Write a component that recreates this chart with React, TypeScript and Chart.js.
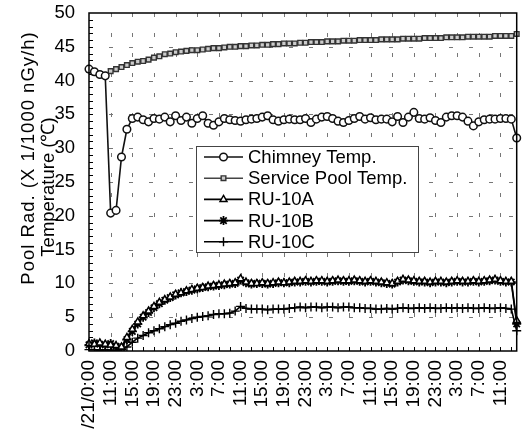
import React, { useEffect, useRef } from 'react';
import { Chart, registerables } from 'chart.js';
import { drawPoint } from 'chart.js/helpers';

Chart.register(...registerables);

const FONT = '"Liberation Sans", Arial, sans-serif';
const FONT_SIZE = 18.5;
const X_FONT_SIZE = 19;

const tickLabels = [
  '/21/0:00', '11:00', '15:00', '19:00', '23:00', '3:00', '7:00', '11:00', '15:00', '19:00',
  '23:00', '3:00', '7:00', '11:00', '15:00', '19:00', '23:00', '3:00', '7:00', '11:00',
];
const pointsPerLabel = 4;

const yTitleLine1 = 'Pool Rad. (X 1/1000 nGy/h)';
const yTitleLine2 = 'Temperature (\u2103)';

const seriesNames = ['Chimney Temp.', 'Service Pool Temp.', 'RU-10A', 'RU-10B', 'RU-10C'];

const chimneyTemp = [
  41.7, 41.3, 40.9, 40.7, 20.4, 20.8, 28.7, 32.8, 34.4, 34.6,
  34.2, 33.9, 34.4, 34.3, 34.6, 33.9, 34.8, 34.1, 34.6, 33.7,
  34.4, 34.8, 33.7, 33.4, 33.9, 34.4, 34.2, 34.1, 34.0, 34.2,
  34.3, 34.4, 34.6, 34.8, 34.2, 34.0, 34.2, 34.3, 34.2, 34.2,
  34.4, 33.8, 34.3, 34.6, 34.7, 34.4, 34.0, 33.8, 34.1, 34.4,
  34.7, 34.3, 34.5, 34.2, 34.3, 34.3, 33.9, 34.7, 33.8, 34.6,
  35.3, 34.4, 34.3, 34.5, 34.1, 33.8, 34.6, 34.8, 34.8, 34.6,
  34.0, 33.3, 33.9, 34.2, 34.3, 34.3, 34.4, 34.4, 34.3, 31.5,
];

const servicePoolTemp = [
  41.6, 41.2, 40.9, 40.7, 41.4, 41.7, 42.0, 42.3, 42.6, 42.8,
  42.9, 43.1, 43.4, 43.6, 43.9, 44.0, 44.2, 44.3, 44.4, 44.5,
  44.5, 44.6, 44.7, 44.8, 44.8, 44.9, 45.0, 45.0, 45.1, 45.1,
  45.2, 45.2, 45.3, 45.3, 45.4, 45.4, 45.5, 45.5, 45.5, 45.6,
  45.6, 45.7, 45.7, 45.7, 45.8, 45.8, 45.8, 45.9, 45.9, 45.9,
  46.0, 46.0, 46.0, 46.0, 46.1, 46.1, 46.1, 46.1, 46.2, 46.2,
  46.2, 46.2, 46.3, 46.3, 46.3, 46.3, 46.4, 46.4, 46.4, 46.4,
  46.5, 46.5, 46.5, 46.5, 46.5, 46.6, 46.6, 46.6, 46.6, 46.9,
];

const ru10A = [
  1.1, 1.0, 1.2, 1.0, 0.9, 0.8, 0.6, 2.0, 3.2, 4.3,
  5.2, 5.9, 6.6, 7.2, 7.6, 8.0, 8.4, 8.6, 8.9, 9.1,
  9.3, 9.4, 9.6, 9.7, 9.8, 9.9, 10.0, 10.1, 10.7, 10.2,
  10.0, 10.0, 10.1, 10.0, 10.1, 10.2, 10.1, 10.2, 10.3, 10.3,
  10.4, 10.3, 10.4, 10.4, 10.3, 10.4, 10.5, 10.4, 10.4, 10.5,
  10.4, 10.3, 10.4, 10.3, 10.2, 10.1, 10.0, 10.3, 10.6, 10.5,
  10.4, 10.3, 10.3, 10.2, 10.3, 10.3, 10.2, 10.3, 10.4, 10.3,
  10.3, 10.4, 10.3, 10.4, 10.5, 10.6, 10.4, 10.3, 10.3, 4.5,
];

const ru10B = [
  0.9, 1.2, 1.0, 0.9, 1.1, 0.7, 0.5, 1.7, 2.9, 4.0,
  5.0, 5.7, 6.4, 7.0, 7.5, 7.9, 8.3, 8.6, 8.8, 9.0,
  9.2, 9.4, 9.5, 9.6, 9.7, 9.8, 9.9, 10.0, 10.5, 10.1,
  9.9, 10.0, 10.0, 9.9, 10.0, 10.1, 10.1, 10.1, 10.2, 10.2,
  10.3, 10.2, 10.3, 10.3, 10.2, 10.3, 10.4, 10.3, 10.3, 10.4,
  10.3, 10.2, 10.3, 10.2, 10.1, 10.0, 9.9, 10.2, 10.5, 10.4,
  10.3, 10.2, 10.2, 10.1, 10.2, 10.2, 10.1, 10.2, 10.3, 10.2,
  10.2, 10.3, 10.2, 10.3, 10.4, 10.5, 10.3, 10.2, 10.2, 4.0,
];

const ru10C = [
  0.2, 0.2, 0.1, 0.2, 0.1, 0.1, 0.2, 0.6, 1.3, 1.9,
  2.3, 2.7, 3.0, 3.3, 3.6, 3.9, 4.1, 4.4, 4.6, 4.8,
  5.0, 5.1, 5.2, 5.4, 5.5, 5.5, 5.6, 5.9, 6.6, 6.3,
  6.2, 6.2, 6.2, 6.1, 6.2, 6.2, 6.2, 6.3, 6.4, 6.5,
  6.4, 6.5, 6.5, 6.4, 6.5, 6.5, 6.4, 6.5, 6.5, 6.4,
  6.4, 6.3, 6.3, 6.2, 6.2, 6.3, 6.2, 6.3, 6.4, 6.3,
  6.3, 6.4, 6.3, 6.4, 6.3, 6.3, 6.4, 6.3, 6.4, 6.3,
  6.4, 6.3, 6.3, 6.4, 6.3, 6.3, 6.4, 6.3, 6.2, 3.0,
];

const categories = chimneyTemp.map((_, i) => String(i));

const decorPlugin = {
  id: 'decor',
  beforeDatasetsDraw(chart: any) {
    const { ctx, chartArea: a, scales } = chart;
    const x = scales.x;
    const y = scales.y;
    ctx.save();
    ctx.strokeStyle = '#777';
    ctx.lineWidth = 1;
    ctx.setLineDash([4, 16]);
    for (let v = 5; v < 50; v += 5) {
      const py = Math.round(y.getPixelForValue(v)) + 0.5;
      ctx.beginPath();
      ctx.moveTo(a.left, py);
      ctx.lineTo(a.right, py);
      ctx.stroke();
    }
    for (let i = pointsPerLabel; i < categories.length; i += pointsPerLabel) {
      const px = Math.round(x.getPixelForValue(i)) + 0.5;
      ctx.beginPath();
      ctx.moveTo(px, a.top);
      ctx.lineTo(px, a.bottom);
      ctx.stroke();
    }
    ctx.setLineDash([]);
    ctx.strokeStyle = '#000';
    for (let v = 1; v < 50; v++) {
      const py = Math.round(y.getPixelForValue(v)) + 0.5;
      ctx.beginPath();
      ctx.moveTo(a.left, py);
      ctx.lineTo(a.left + 4, py);
      ctx.stroke();
    }
    for (let i = 2; i < categories.length; i += 2) {
      const px = Math.round(x.getPixelForValue(i)) + 0.5;
      ctx.beginPath();
      ctx.moveTo(px, a.bottom);
      ctx.lineTo(px, a.bottom - 4);
      ctx.stroke();
    }
    ctx.restore();
  },
  afterDatasetsDraw(chart: any) {
    const { ctx, chartArea: a } = chart;
    ctx.save();
    ctx.strokeStyle = '#000';
    ctx.lineWidth = 1.5;
    ctx.strokeRect(a.left, a.top, a.right - a.left, a.bottom - a.top);
    ctx.restore();
  },
  afterDraw(chart: any) {
    const { ctx } = chart;
    ctx.save();
    const bx = 196, by = 146, bw = 222, bh = 106;
    ctx.fillStyle = '#fff';
    ctx.fillRect(bx, by, bw, bh);
    ctx.strokeStyle = '#444';
    ctx.lineWidth = 1;
    ctx.strokeRect(bx + 0.5, by + 0.5, bw, bh);
    chart.data.datasets.forEach((ds: any, k: number) => {
      const yy = 157 + k * 21.2;
      ctx.strokeStyle = ds.borderColor;
      ctx.lineWidth = ds.borderWidth;
      ctx.beginPath();
      ctx.moveTo(204, yy);
      ctx.lineTo(243, yy);
      ctx.stroke();
      ctx.fillStyle = ds.pointBackgroundColor;
      ctx.strokeStyle = ds.pointBorderColor;
      ctx.lineWidth = ds.pointBorderWidth;
      drawPoint(ctx, { pointStyle: ds.pointStyle, radius: ds.pointRadius, rotation: 0, borderWidth: ds.pointBorderWidth }, 223.5, yy);
      ctx.fillStyle = '#000';
      ctx.font = `${FONT_SIZE}px ${FONT}`;
      ctx.textAlign = 'left';
      ctx.textBaseline = 'middle';
      ctx.fillText(ds.label, 248, yy + 1);
    });
    ctx.fillStyle = '#000';
    ctx.font = `${FONT_SIZE}px ${FONT}`;
    ctx.textAlign = 'center';
    ctx.textBaseline = 'middle';
    ctx.save();
    try { (ctx as any).letterSpacing = '1px'; } catch (e) { /* ignore */ }
    ctx.translate(29, 158);
    ctx.rotate(-Math.PI / 2);
    ctx.fillText(yTitleLine1, 0, 0);
    ctx.restore();
    ctx.save();
    ctx.translate(48.5, 187);
    ctx.rotate(-Math.PI / 2);
    ctx.fillText(yTitleLine2, 0, 0);
    ctx.restore();
    ctx.restore();
  },
};

export default function App() {
  const ref = useRef<HTMLCanvasElement>(null);
  useEffect(() => {
    if (!ref.current) return;
    const chart = new Chart(ref.current, {
      type: 'line',
      data: {
        labels: categories,
        datasets: [
          {
            label: seriesNames[0], data: chimneyTemp,
            borderColor: '#111', borderWidth: 1.6,
            pointStyle: 'circle', pointRadius: 3.8, pointBorderWidth: 1.5,
            pointBackgroundColor: '#fff', pointBorderColor: '#111',
          },
          {
            label: seriesNames[1], data: servicePoolTemp,
            borderColor: '#444', borderWidth: 1.4,
            pointStyle: 'rect', pointRadius: 3.3, pointBorderWidth: 1.4,
            pointBackgroundColor: '#ccc', pointBorderColor: '#333',
          },
          {
            label: seriesNames[2], data: ru10A,
            borderColor: '#000', borderWidth: 1.6,
            pointStyle: 'triangle', pointRadius: 4, pointBorderWidth: 1.5,
            pointBackgroundColor: '#fff', pointBorderColor: '#000',
          },
          {
            label: seriesNames[3], data: ru10B,
            borderColor: '#000', borderWidth: 1.6,
            pointStyle: 'star', pointRadius: 4.5, pointBorderWidth: 1.8,
            pointBackgroundColor: '#000', pointBorderColor: '#000',
          },
          {
            label: seriesNames[4], data: ru10C,
            borderColor: '#000', borderWidth: 1.6,
            pointStyle: 'cross', pointRadius: 4.5, pointBorderWidth: 1.4,
            pointBackgroundColor: '#000', pointBorderColor: '#000',
          },
        ],
      },
      options: {
        responsive: false,
        animation: false,
        layout: { padding: { left: 0, top: 13, right: 4, bottom: 0 } },
        plugins: { legend: { display: false }, tooltip: { enabled: false } },
        elements: { line: { tension: 0 } },
        scales: {
          x: {
            type: 'category',
            offset: false,
            grid: { display: false, drawTicks: false },
            border: { display: false },
            ticks: {
              autoSkip: false,
              minRotation: 90,
              maxRotation: 90,
              padding: 9,
              color: '#000',
              font: { family: FONT, size: X_FONT_SIZE },
              callback: (_v: any, index: number) =>
                index % pointsPerLabel === 0 ? tickLabels[index / pointsPerLabel] ?? '' : '',
            },
            afterFit: (scale: any) => {
              scale.height = 91;
              scale.paddingLeft = 0;
              scale.paddingRight = 0;
            },
          },
          y: {
            min: 0,
            max: 50,
            grid: { display: false, drawTicks: false },
            border: { display: false },
            ticks: {
              stepSize: 5,
              padding: 14,
              color: '#000',
              font: { family: FONT, size: FONT_SIZE },
            },
            afterFit: (scale: any) => {
              scale.width = 89;
              scale.paddingTop = 0;
              scale.paddingBottom = 0;
            },
          },
        },
      },
      plugins: [decorPlugin],
    } as any);
    return () => chart.destroy();
  }, []);
  return (
    <div style={{ position: 'absolute', left: 0, top: 0, width: 523, height: 442, background: '#fff' }}>
      <canvas ref={ref} width={523} height={442} style={{ display: 'block', width: 523, height: 442 }} />
    </div>
  );
}
